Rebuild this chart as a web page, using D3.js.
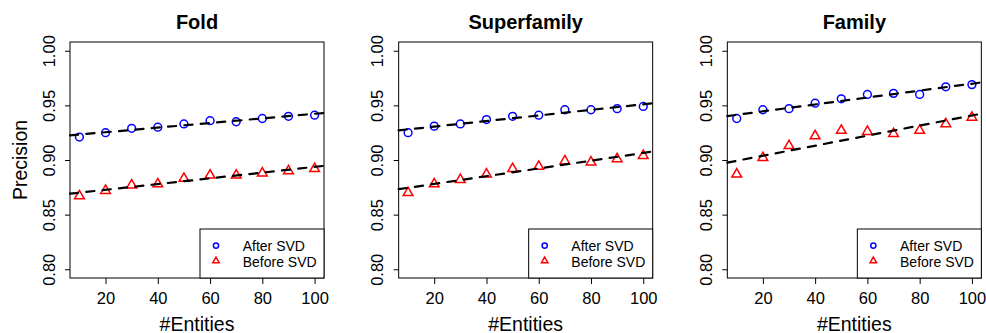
<!DOCTYPE html>
<html><head><meta charset="utf-8">
<script src="https://cdn.jsdelivr.net/npm/d3@7"></script>
<style>body{margin:0;background:#fff} svg text{font-family:"Liberation Sans",Arial,Helvetica,sans-serif;fill:#000}</style>
</head><body><svg id="c" width="986" height="333"></svg>
<script>
// ---- data ----
const entities = [10, 20, 30, 40, 50, 60, 70, 80, 90, 100];
const panelTitles = ["Fold", "Superfamily", "Family"];
const foldAfter  = [0.921, 0.925, 0.929, 0.930, 0.933, 0.936, 0.935, 0.938, 0.940, 0.941];
const foldBefore = [0.867, 0.872, 0.877, 0.878, 0.883, 0.886, 0.886, 0.888, 0.890, 0.892];
const superAfter  = [0.925, 0.931, 0.933, 0.937, 0.940, 0.941, 0.946, 0.946, 0.947, 0.949];
const superBefore = [0.870, 0.878, 0.882, 0.887, 0.892, 0.894, 0.899, 0.898, 0.901, 0.904];
const familyAfter  = [0.938, 0.946, 0.947, 0.952, 0.956, 0.960, 0.961, 0.960, 0.967, 0.969];
const familyBefore = [0.887, 0.902, 0.913, 0.922, 0.927, 0.926, 0.924, 0.927, 0.933, 0.939];
const xTicks = [20, 40, 60, 80, 100];
const yTicks = [0.80, 0.85, 0.90, 0.95, 1.00];
const legendLabels = ["After SVD", "Before SVD"];
const xLabel = "#Entities";
const yLabel = "Precision";

const panels = [
  {title: panelTitles[0], after: foldAfter, before: foldBefore},
  {title: panelTitles[1], after: superAfter, before: superBefore},
  {title: panelTitles[2], after: familyAfter, before: familyBefore}
];

// ---- layout ----
const W = 986, H = 333;
const panelW = W / 3;
const mLeft = 70, mTop = 42, pw = 254, ph = 236;
const BLUE = "#0000FF", RED = "#FF0000";

const svg = d3.select("#c");

// R-style triangle (pch = 2), centred on centroid
function triPath(xc) {
  const T0 = 1.5551203, T1 = 1.3467737, T2 = 0.7775602;
  return `M0,${-T0 * xc}L${T1 * xc},${T2 * xc}L${-T1 * xc},${T2 * xc}Z`;
}

function fit(xs, ys) {
  const mx = d3.mean(xs), my = d3.mean(ys);
  let sxy = 0, sxx = 0;
  xs.forEach((x, i) => { sxy += (x - mx) * (ys[i] - my); sxx += (x - mx) * (x - mx); });
  const b = sxy / sxx;
  return {a: my - b * mx, b};
}

panels.forEach((p, i) => {
  const g = svg.append("g").attr("transform", `translate(${i * panelW + mLeft},${mTop})`);
  const xr = d3.extent(entities), xpad = (xr[1] - xr[0]) * 0.04;
  const x = d3.scaleLinear().domain([xr[0] - xpad, xr[1] + xpad]).range([0, pw]);
  const y = d3.scaleLinear().domain([0.792, 1.008]).range([ph, 0]);

  // axes
  const gx = g.append("g").attr("transform", `translate(0,${ph})`)
    .call(d3.axisBottom(x).tickValues(xTicks).tickSize(6).tickFormat(d3.format("d")));
  gx.select(".domain").remove();
  gx.selectAll(".tick line").attr("stroke", "#000");
  gx.selectAll(".tick text").attr("y", 26).attr("dy", 0).attr("fill", "#000")
    .style("font-size", "16.5px").style("font-family", null);

  const gy = g.append("g")
    .call(d3.axisLeft(y).tickValues(yTicks).tickSize(5).tickFormat(d3.format(".2f")));
  gy.select(".domain").remove();
  gy.selectAll(".tick line").attr("stroke", "#000");
  gy.selectAll(".tick text").attr("x", 0).attr("y", 0).attr("dy", 0)
    .attr("text-anchor", "middle").attr("fill", "#000")
    .attr("transform", "translate(-15.5,0) rotate(-90)")
    .style("font-size", "16.5px").style("font-family", null);
  svg.selectAll(".tick text").attr("font-family", null).attr("font-size", null);

  // box
  g.append("rect").attr("x", 0).attr("y", 0).attr("width", pw).attr("height", ph)
    .attr("fill", "none").attr("stroke", "#000").attr("stroke-width", 1);

  // points
  g.selectAll("circle.after").data(p.after).enter().append("circle")
    .attr("class", "after")
    .attr("cx", (d, k) => x(entities[k])).attr("cy", d => y(d)).attr("r", 3.9)
    .attr("fill", "none").attr("stroke", BLUE).attr("stroke-width", 1.5);
  g.selectAll("path.before").data(p.before).enter().append("path")
    .attr("class", "before")
    .attr("d", triPath(3.6))
    .attr("transform", (d, k) => `translate(${x(entities[k])},${y(d)})`)
    .attr("fill", "none").attr("stroke", RED).attr("stroke-width", 1.5);

  // regression lines
  [p.after, p.before].forEach(vals => {
    const f = fit(entities, vals);
    const [x0, x1] = x.domain();
    g.append("line")
      .attr("x1", x(x0)).attr("y1", y(f.a + f.b * x0))
      .attr("x2", x(x1)).attr("y2", y(f.a + f.b * x1))
      .attr("stroke", "#000").attr("stroke-width", 2.2)
      .attr("stroke-dasharray", "8.2,8.2").attr("stroke-linecap", "round");
  });

  // title
  g.append("text").attr("x", pw / 2).attr("y", 29 - mTop).attr("text-anchor", "middle")
    .style("font-size", "20px").style("font-weight", "bold").text(p.title);
  // x label
  g.append("text").attr("x", pw / 2).attr("y", 330.5 - mTop).attr("text-anchor", "middle")
    .style("font-size", "19.5px").text(xLabel);
  if (i === 0) {
    g.append("text").attr("transform", `translate(${27 - mLeft},${ph / 2}) rotate(-90)`)
      .attr("text-anchor", "middle").style("font-size", "19.5px").text(yLabel);
  }

  // legend
  const lg = g.append("g").attr("transform", `translate(${pw - 124},${ph - 49})`);
  lg.append("rect").attr("width", 124).attr("height", 49)
    .attr("fill", "#fff").attr("stroke", "#000").attr("stroke-width", 1);
  lg.append("circle").attr("cx", 16).attr("cy", 16.6).attr("r", 2.6)
    .attr("fill", "none").attr("stroke", BLUE).attr("stroke-width", 1.5);
  lg.append("path").attr("d", triPath(2.4)).attr("transform", "translate(16,31.8)")
    .attr("fill", "none").attr("stroke", RED).attr("stroke-width", 1.5);
  legendLabels.forEach((t, k) => {
    lg.append("text").attr("x", 42.7).attr("y", 22 + k * 15.5)
      .style("font-size", "14px").text(t);
  });
});
</script></body></html>
